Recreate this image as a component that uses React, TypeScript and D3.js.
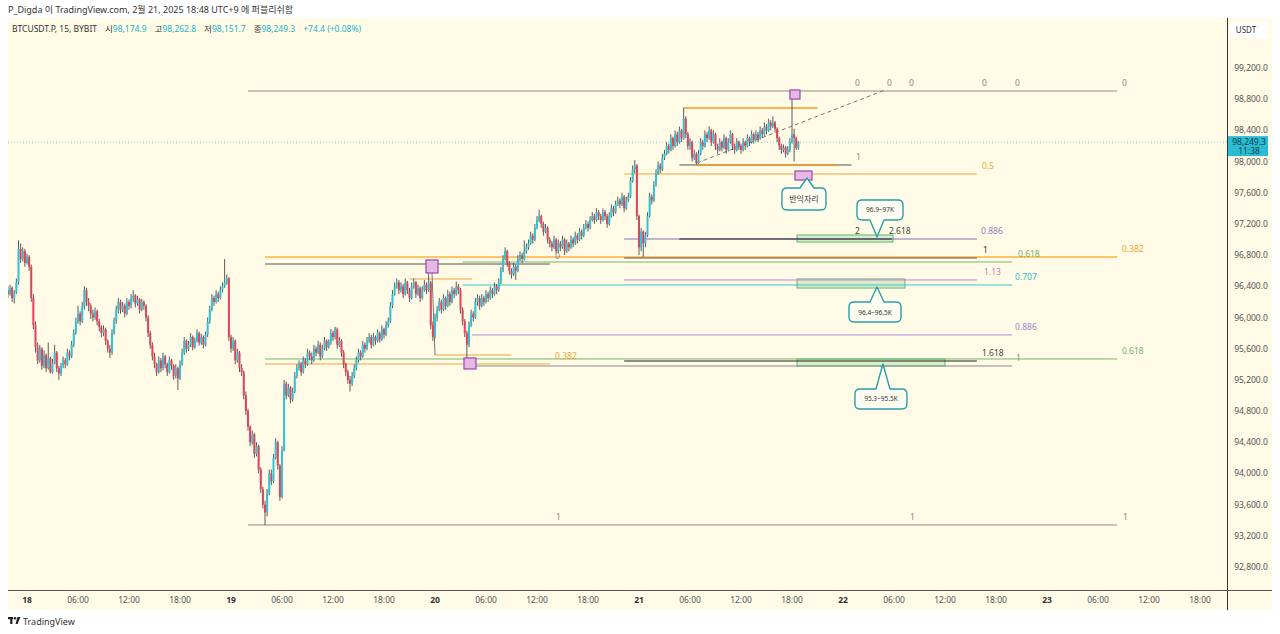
import React from 'react';
import * as d3 from 'd3';

// ---------- DATA ----------
const T0 = Date.UTC(2025, 1, 18, 0, 0); // Feb 18 00:00
const FIRST_BAR_OFFSET_MIN = -135; // first bar opens Feb 17 21:45
const BAR_MIN = 15;
const OPEN0 = 96350;
// [high, low, close] ; open = previous close
const CANDLES: number[][] = [
[96400,96250,96300],[96420,96280,96380],[96400,96200,96250],[96350,96180,96320],[96500,96300,96450],[96990,96420,96880],[96950,96700,96750],[96900,96720,96850],[96880,96650,96700],[96820,96680,96780],
[96800,96600,96650],[96680,96200,96250],[96300,95850,95900],[95950,95550,95620],[95680,95400,95450],[95650,95420,95600],[95620,95330,95380],[95580,95350,95520],[95540,95300,95350],[95680,95330,95480],
[95500,95280,95300],[95470,95280,95420],[95650,95400,95550],[95570,95300,95350],[95380,95200,95280],[95420,95250,95380],[95500,95350,95450],[95480,95350,95400],[95600,95380,95550],[95580,95450,95500],
[95700,95480,95650],[95850,95620,95800],[96000,95780,95950],[96150,95920,96050],[96080,95900,95950],[96200,95930,96150],[96400,96100,96350],[96380,96150,96200],[96250,96080,96150],[96180,95980,96050],
[96100,95950,96000],[96130,95970,96080],[96100,95900,95950],[95980,95820,95880],[95900,95750,95800],[95900,95760,95850],[95870,95650,95700],[95720,95550,95600],[95650,95480,95550],[95850,95520,95800],
[96000,95780,95950],[96150,95920,96100],[96250,96050,96200],[96230,96050,96100],[96200,96070,96150],[96180,96000,96050],[96250,96030,96200],[96230,96100,96150],[96300,96120,96250],[96350,96200,96280],
[96300,96130,96180],[96280,96150,96230],[96250,96050,96100],[96240,96080,96200],[96220,96100,96150],[96170,95950,96000],[96030,95750,95800],[95830,95600,95650],[95680,95450,95500],[95550,95350,95400],
[95420,95250,95300],[95500,95280,95450],[95480,95300,95350],[95550,95320,95500],[95520,95350,95400],[95420,95250,95300],[95500,95280,95450],[95470,95330,95380],[95400,95200,95250],[95400,95220,95350],
[95370,95070,95220],[95450,95200,95400],[95600,95380,95550],[95750,95520,95700],[95720,95550,95600],[95700,95570,95650],[95800,95620,95750],[95770,95580,95620],[95740,95600,95700],[95850,95680,95800],
[95820,95640,95680],[95790,95650,95750],[95770,95600,95650],[95820,95630,95780],[96000,95750,95950],[96150,95920,96100],[96300,96080,96250],[96280,96150,96200],[96350,96180,96300],[96330,96200,96250],
[96400,96230,96350],[96450,96320,96400],[96750,96380,96450],[96550,96420,96500],[96520,95700,95750],[95780,95550,95600],[95750,95570,95700],[95720,95400,95450],[95600,95420,95550],[95570,95300,95350],
[95400,95250,95300],[95320,94950,95000],[95050,94750,94800],[94830,94550,94600],[94620,94350,94400],[94550,94370,94500],[94520,94200,94250],[94400,94220,94350],[94370,94000,94050],[94080,93750,93800],
[93830,93550,93600],[93650,93340,93500],[93800,93450,93750],[94050,93720,94000],[94050,93850,93900],[94250,93880,94200],[94450,94180,94400],[94420,94050,94100],[94120,93650,93700],[94350,93680,94300],
[95200,94280,95150],[95180,94950,95000],[95150,94980,95100],[95120,94900,94950],[95100,94920,95050],[95300,95030,95250],[95400,95220,95350],[95450,95320,95400],[95430,95250,95300],[95500,95280,95450],
[95480,95350,95400],[95600,95380,95550],[95580,95450,95500],[95550,95400,95450],[95650,95430,95600],[95630,95500,95550],[95700,95530,95650],[95680,95450,95500],[95650,95480,95600],[95750,95580,95700],
[95720,95570,95620],[95720,95600,95680],[95850,95650,95800],[95830,95700,95750],[95880,95720,95850],[95870,95600,95650],[95750,95620,95700],[95720,95500,95550],[95580,95350,95400],[95420,95250,95300],
[95330,95150,95200],[95250,95050,95150],[95300,95120,95250],[95400,95220,95350],[95500,95320,95450],[95600,95420,95550],[95580,95450,95500],[95700,95480,95650],[95680,95550,95600],[95750,95580,95700],
[95800,95670,95750],[95780,95600,95650],[95800,95630,95750],[95770,95650,95700],[95850,95680,95800],[95820,95680,95720],[95900,95700,95850],[95870,95730,95780],[95950,95760,95900],[96000,95870,95950],
[96200,95930,96150],[96350,96120,96300],[96450,96280,96400],[96500,96370,96450],[96480,96300,96350],[96450,96320,96400],[96430,96250,96300],[96500,96280,96450],[96470,96300,96350],[96380,96200,96250],
[96450,96230,96400],[96500,96370,96450],[96470,96250,96300],[96420,96280,96380],[96400,96200,96250],[96400,96230,96350],[96480,96330,96420],[96450,96300,96350],[96700,96330,96450],[96470,95850,95900],
[95950,95700,95750],[96050,95730,96000],[96150,95950,96100],[96250,96080,96200],[96230,96050,96100],[96300,96080,96250],[96270,96100,96150],[96350,96130,96300],[96330,96150,96200],[96400,96180,96350],
[96380,96250,96300],[96460,96280,96400],[96430,96300,96350],[96380,96050,96100],[96130,95900,95950],[95980,95750,95800],[95830,95480,95650],[95950,95620,95900],[96100,95880,96050],[96080,95950,96000],
[96250,95980,96200],[96300,96150,96250],[96280,96100,96150],[96300,96130,96250],[96280,96150,96200],[96350,96180,96300],[96330,96200,96250],[96400,96230,96350],[96380,96250,96300],[96450,96280,96400],
[96430,96300,96350],[96500,96330,96450],[96650,96430,96600],[96800,96580,96750],[96900,96730,96850],[96870,96650,96700],[96720,96550,96600],[96630,96500,96550],[96700,96530,96650],[96680,96480,96600],
[96800,96580,96750],[96850,96720,96800],[96830,96700,96750],[96990,96730,96850],[96950,96820,96900],[97000,96870,96950],[97100,96930,97050],[97080,96950,97000],[97200,96980,97150],[97300,97130,97250],
[97380,97220,97300],[97320,97150,97200],[97230,97050,97100],[97200,97080,97150],[97170,96950,97000],[97030,96900,96950],[96980,96850,96900],[97050,96880,97000],[97020,96820,96850],[97000,96830,96950],
[96980,96850,96900],[97050,96880,97000],[97020,96800,96850],[97000,96830,96950],[96970,96850,96900],[97050,96880,97000],[97030,96900,96950],[97100,96930,97050],[97080,96950,97000],[97150,96980,97100],
[97130,97000,97050],[97200,97030,97150],[97250,97130,97200],[97230,97100,97150],[97300,97130,97250],[97350,97230,97300],[97330,97200,97250],[97400,97230,97350],[97380,97250,97300],[97330,97200,97250],
[97400,97230,97350],[97380,97250,97300],[97330,97150,97200],[97350,97180,97300],[97450,97280,97400],[97430,97300,97350],[97500,97330,97450],[97550,97430,97500],[97530,97400,97450],[97600,97430,97550],
[97570,97350,97400],[97550,97380,97500],[97600,97480,97550],[97800,97530,97750],[97950,97730,97900],[98020,97850,97950],[97970,97250,97300],[97320,96800,96900],[97150,96850,97100],[97120,96780,96950],
[97100,96900,97050],[97350,97030,97300],[97600,97280,97550],[97580,97450,97500],[97750,97480,97700],[97900,97680,97850],[98000,97830,97950],[97980,97850,97900],[98100,97880,98050],[98150,98020,98100],
[98250,98080,98200],[98230,98100,98150],[98350,98130,98300],[98320,98150,98200],[98400,98180,98350],[98380,98200,98250],[98450,98230,98400],[98420,98250,98300],[98690,98280,98550],[98580,98300,98350],
[98380,98150,98200],[98300,98150,98250],[98270,98000,98050],[98150,98020,98100],[98120,97960,97980],[98150,97970,98100],[98300,98080,98250],[98280,98150,98200],[98400,98180,98350],[98380,98250,98300],
[98450,98280,98400],[98420,98200,98250],[98400,98230,98350],[98370,98150,98200],[98230,98100,98150],[98300,98130,98250],[98270,98130,98180],[98350,98160,98300],[98320,98100,98150],[98300,98130,98250],
[98400,98230,98350],[98370,98150,98200],[98230,98100,98150],[98300,98130,98250],[98270,98150,98200],[98230,98100,98150],[98300,98130,98250],[98270,98150,98200],[98350,98180,98300],[98320,98200,98250],
[98400,98230,98350],[98370,98230,98280],[98400,98260,98350],[98380,98250,98300],[98450,98280,98400],[98430,98300,98350],[98500,98330,98450],[98480,98350,98400],[98550,98380,98500],[98530,98400,98450],
[98580,98430,98500],[98520,98380,98420],[98440,98250,98300],[98320,98150,98200],[98230,98100,98150],[98220,98120,98180],[98200,98050,98100],[98200,98080,98150],[98300,98120,98250],[98880,98230,98350],
[98420,98000,98300],[98320,98150,98174.9],[98262.8,98151.7,98249.3]
];

const PRICE_TICKS = [99200, 98800, 98400, 98000, 97600, 97200, 96800, 96400, 96000, 95600, 95200, 94800, 94400, 94000, 93600, 93200, 92800];
const TIME_TICK_HOURS = [0, 6, 12, 18, 24, 30, 36, 42, 48, 54, 60, 66, 72, 78, 84, 90, 96, 102, 108, 114, 120, 126, 132, 138];
const TIME_TICK_LABELS = ['18', '06:00', '12:00', '18:00', '19', '06:00', '12:00', '18:00', '20', '06:00', '12:00', '18:00', '21', '06:00', '12:00', '18:00', '22', '06:00', '12:00', '18:00', '23', '06:00', '12:00', '18:00'];

const LAST_PRICE = 98249.3;
const COUNTDOWN = '11:38';
const LEGEND = { sym: 'BTCUSDT.P, 15, BYBIT', o: '98,174.9', h: '98,262.8', l: '98,151.7', c: '98,249.3', chg: '+74.4 (+0.08%)' };
const TITLE = 'P_Digda 이 TradingView.com, 2월 21, 2025 18:48 UTC+9 에 퍼블리쉬함';

// horizontal level lines: price, start hour, end hour, colour key
const LEVEL_LINES: [number, number, number, string][] = [
  [98905, 26, 128.25, 'gray'],
  [93339, 26, 128.25, 'gray'],
  [98687, 77.25, 93, 'orangeThick'],
  [97956, 76.75, 97, 'dark'],
  [97956, 78.75, 95.25, 'orangeThick'],
  [97841, 70.25, 111.75, 'orange'],
  [97007, 70.25, 111.75, 'purple'],
  [97007, 76.75, 101.75, 'black'],
  [96776, 28, 128.25, 'orangeLight'],
  [96763, 70.25, 111.75, 'dark'],
  [96712, 51.25, 115.9, 'green'],
  [96686, 28, 61.5, 'dark'],
  [96494, 45, 52.35, 'orange'],
  [96481, 70.25, 111.75, 'pink'],
  [96417, 51.25, 115.9, 'cyan'],
  [95776, 52.35, 115.9, 'lavender'],
  [95519, 48, 57, 'orange'],
  [95468, 28, 128.25, 'green'],
  [95442, 70.25, 111.75, 'black'],
  [95404, 28, 61.5, 'orange'],
  [95378, 52.5, 115.9, 'gray'],
];

// level labels: text, left hour, level price, colour key
const LEVEL_LABELS: [string, number, number, string][] = [
  ['0', 97.41, 98905, 'grayT'], ['0', 101.18, 98905, 'grayT'], ['0', 103.76, 98905, 'grayT'],
  ['0', 112.35, 98905, 'grayT'], ['0', 116.24, 98905, 'grayT'], ['0', 128.82, 98905, 'grayT'],
  ['1', 62.24, 93339, 'grayT'], ['1', 103.88, 93339, 'grayT'], ['1', 128.94, 93339, 'grayT'],
  ['1', 97.53, 97956, 'grayT'],
  ['0.5', 112.35, 97841, 'orangeT'],
  ['0.886', 112.24, 97007, 'purpleT'],
  ['2', 97.41, 97007, 'darkT'], ['2.618', 101.41, 97007, 'darkT'],
  ['1', 112.47, 96763, 'darkT'],
  ['0.618', 116.59, 96712, 'greenT'],
  ['0.382', 128.82, 96776, 'orangeT'],
  ['1.13', 112.59, 96481, 'pinkT'],
  ['0.707', 116.24, 96417, 'cyanT'],
  ['0.886', 116.24, 95776, 'lavenderT'],
  ['1.618', 112.35, 95442, 'darkT'],
  ['1', 116.35, 95378, 'grayT'],
  ['0.618', 128.82, 95468, 'greenT'],
  ['0.382', 62.12, 95404, 'orangeT'],
  ['0', 62.12, 96686, 'grayT'],
];

// zones: start hour, end hour, top price, bottom price
const GREEN_ZONES: [number, number, number, number][] = [
  [90.59, 101.88, 97058, 96968],
  [90.59, 103.29, 96494, 96378],
  [90.59, 108.0, 95468, 95378],
];
const PURPLE_MARKS: [number, number, number, number][] = [
  [46.94, 48.35, 96738, 96571],
  [51.41, 52.82, 95481, 95340],
  [89.76, 90.94, 98918, 98802],
  [90.35, 92.35, 97879, 97763],
];
// callouts: text, tip hour, tip price
const CALLOUTS: [string, number, number][] = [
  ['96.9~97K', 100.0, 97033],
  ['96.4~96.5K', 100.0, 96391],
  ['95.3~95.5K', 100.7, 95404],
  ['반익자리', 91.76, 97789],
];
const TREND_DASHED: [number, number, number, number] = [78.82, 97982, 100.94, 98918];
const TREND_SOLID: [number, number, number, number] = [47.65, 96571, 48.0, 95519];

// ---------- STYLE ----------
const COLORS: Record<string, string> = {
  gray: '#8d8d8d', dark: '#555555', black: '#222222', orange: '#eea53a', orangeThick: '#f29b1f',
  orangeLight: '#ffc36b', purple: '#7f6fbf', green: '#72b972', pink: '#d77ad6', cyan: '#3cc3d4', lavender: '#b48ae0',
  grayT: '#8a8a8a', darkT: '#444444', orangeT: '#eea53a', purpleT: '#8f84c0', greenT: '#74b274', pinkT: '#d27cc9',
  cyanT: '#2fb8cb', lavenderT: '#9b84cf',
};
const WIDTHS: Record<string, number> = { orangeThick: 1.6, orangeLight: 2 };
const CALLOUT_LAYOUT = [
  { dx: 3, dy: -27, w: 46, h: 20 },
  { dx: -2, dy: 25, w: 52, h: 20 },
  { dx: -2, dy: 35, w: 52, h: 20 },
  { dx: -3, dy: 21, w: 44, h: 22 },
];

const UP = '#2fc3d6';
const DOWN = '#e2435b';
const WICK = '#4a4a4a';
const BG = '#fffbe6';
const FONT = '"Noto Sans", "Noto Sans CJK KR", sans-serif';

function calloutPath(tx: number, ty: number, cx: number, cy: number, w: number, h: number) {
  const r = 5;
  const x0 = cx - w / 2, x1 = cx + w / 2, y0 = cy - h / 2, y1 = cy + h / 2;
  const b0 = Math.max(x0 + r, tx - 7), b1 = Math.min(x1 - r, tx + 7);
  const below = ty > y1;
  let d = `M${x0 + r},${y0}`;
  if (!below) {
    d += `L${b0},${y0}L${tx},${ty}L${b1},${y0}`;
  }
  d += `L${x1 - r},${y0}Q${x1},${y0} ${x1},${y0 + r}L${x1},${y1 - r}Q${x1},${y1} ${x1 - r},${y1}`;
  if (below) {
    d += `L${b1},${y1}L${tx},${ty}L${b0},${y1}`;
  }
  d += `L${x0 + r},${y1}Q${x0},${y1} ${x0},${y1 - r}L${x0},${y0 + r}Q${x0},${y0} ${x0 + r},${y0}Z`;
  return d;
}

export default function App() {
  const W = 1280, H = 634;
  const paneL = 8, paneR = 1227, paneT = 18, paneB = 590;
  const x = d3.scaleUtc().domain([new Date(T0), new Date(T0 + 120 * 3600e3)]).range([27, 1047]);
  const xh = (h: number) => x(new Date(T0 + h * 3600e3));
  const y = d3.scaleLinear().domain([92800, 99200]).range([567, 68]);
  const fmt = d3.format(',.1f');

  const bars = CANDLES.map((c, i) => {
    const o = i === 0 ? OPEN0 : CANDLES[i - 1][2];
    const t = new Date(T0 + (FIRST_BAR_OFFSET_MIN + i * BAR_MIN) * 60e3);
    return { t, o, h: c[0], l: c[1], c: c[2] };
  });
  const bw = 2;

  return (
    <div style={{ position: 'absolute', left: 0, top: 0, width: W, height: H, background: '#fff' }}>
      <svg width={W} height={H} style={{ display: 'block', fontFamily: FONT }}>
        <defs>
          <clipPath id="pane"><rect x={paneL} y={paneT} width={paneR - paneL} height={paneB - paneT} /></clipPath>
        </defs>
        <rect x={0} y={0} width={W} height={H} fill="#ffffff" />
        <text x={8} y={13} fontSize={9} fill="#333">{TITLE}</text>
        <rect x={paneL} y={paneT} width={1272 - paneL} height={610 - paneT} fill={BG} />

        <g clipPath="url(#pane)">
          <line x1={paneL} x2={paneR} y1={y(LAST_PRICE)} y2={y(LAST_PRICE)} stroke="#7fd3dd" strokeWidth={1} strokeDasharray="1,2" />

          {GREEN_ZONES.map((z, i) => (
            <rect key={'gz' + i} x={xh(z[0])} y={y(z[2])} width={xh(z[1]) - xh(z[0])} height={y(z[3]) - y(z[2])}
              fill="rgba(120,200,130,0.28)" stroke="#5cb870" strokeWidth={1} />
          ))}

          {LEVEL_LINES.map((l, i) => (
            <line key={'ll' + i} x1={xh(l[1])} x2={xh(l[2])} y1={y(l[0])} y2={y(l[0])}
              stroke={COLORS[l[3]]} strokeWidth={WIDTHS[l[3]] || 1} />
          ))}

          <line x1={xh(TREND_DASHED[0])} y1={y(TREND_DASHED[1])} x2={xh(TREND_DASHED[2])} y2={y(TREND_DASHED[3])}
            stroke="#777" strokeWidth={1} strokeDasharray="4,3" />
          <line x1={xh(TREND_SOLID[0])} y1={y(TREND_SOLID[1])} x2={xh(TREND_SOLID[2])} y2={y(TREND_SOLID[3])}
            stroke="#777" strokeWidth={1} />

          {bars.map((b, i) => {
            const cx = x(b.t);
            const up = b.c >= b.o;
            const top = y(Math.max(b.o, b.c));
            const bot = y(Math.min(b.o, b.c));
            return (
              <g key={'b' + i}>
                <line x1={cx} x2={cx} y1={y(b.h)} y2={y(b.l)} stroke={WICK} strokeWidth={0.9} />
                <rect x={cx - bw / 2} y={top} width={bw} height={Math.max(1, bot - top)} fill={up ? UP : DOWN} />
              </g>
            );
          })}

          {PURPLE_MARKS.map((m, i) => (
            <rect key={'pm' + i} x={xh(m[0])} y={y(m[2])} width={xh(m[1]) - xh(m[0])} height={y(m[3]) - y(m[2])}
              fill="#e6b9e3" stroke="#9c44b0" strokeWidth={1.2} />
          ))}

          {LEVEL_LABELS.map((l, i) => (
            <text key={'lb' + i} x={xh(l[1])} y={y(l[2]) - 5} fontSize={8.5} fill={COLORS[l[3]]}>{l[0]}</text>
          ))}

          {CALLOUTS.map((c, i) => {
            const tx = xh(c[1]), ty = y(c[2]);
            const L = CALLOUT_LAYOUT[i];
            const cx = tx + L.dx, cy = ty + L.dy;
            return (
              <g key={'co' + i}>
                <path d={calloutPath(tx, ty, cx, cy, L.w, L.h)} fill="#fffdf2" stroke="#2a9fa8" strokeWidth={1.4} strokeLinejoin="round" />
                <text x={cx} y={cy + 2.5} fontSize={i === 3 ? 8 : 6.5} textAnchor="middle" fill="#333">{c[0]}</text>
              </g>
            );
          })}
        </g>

        {/* legend */}
        <text x={12} y={32} fontSize={8.5} fill="#333">
          <tspan>{LEGEND.sym}</tspan>
          <tspan dx={8}>시</tspan><tspan fill="#22b5c9">{LEGEND.o}</tspan>
          <tspan dx={8}>고</tspan><tspan fill="#22b5c9">{LEGEND.h}</tspan>
          <tspan dx={8}>저</tspan><tspan fill="#22b5c9">{LEGEND.l}</tspan>
          <tspan dx={8}>종</tspan><tspan fill="#22b5c9">{LEGEND.c}</tspan>
          <tspan dx={8} fill="#22b5c9">{LEGEND.chg}</tspan>
        </text>

        {/* axes frame */}
        <line x1={paneR + 0.5} x2={paneR + 0.5} y1={paneT} y2={610} stroke="#333" strokeWidth={1} />
        <line x1={paneL} x2={1272} y1={paneB + 0.5} y2={paneB + 0.5} stroke="#555" strokeWidth={1} />

        {/* price axis */}
        <rect x={1230} y={22} width={38} height={16} rx={2} fill="#ffffff" />
        <text x={1246} y={33} fontSize={8} textAnchor="middle" fill="#333">USDT</text>
        {PRICE_TICKS.map((p) => (
          <text key={'pt' + p} x={1251} y={y(p) + 3} fontSize={8.5} textAnchor="middle" fill="#555">{fmt(p)}</text>
        ))}
        <rect x={1228} y={y(LAST_PRICE) - 6} width={40} height={20} fill="#29bcd2" />
        <text x={1249} y={y(LAST_PRICE) + 3} fontSize={8.5} textAnchor="middle" fill="#0d3c4e">{fmt(LAST_PRICE)}</text>
        <text x={1249} y={y(LAST_PRICE) + 12} fontSize={8.5} textAnchor="middle" fill="#0d3c4e">{COUNTDOWN}</text>

        {/* time axis */}
        {TIME_TICK_HOURS.map((h, i) => (
          <text key={'tt' + i} x={xh(h)} y={603} fontSize={8.5} textAnchor="middle"
            fill={TIME_TICK_LABELS[i].includes(':') ? '#555' : '#333'}
            fontWeight={TIME_TICK_LABELS[i].includes(':') ? 400 : 700}>{TIME_TICK_LABELS[i]}</text>
        ))}

        {/* TradingView logo */}
        <g transform="translate(8,617)" fill="#222">
          <rect x={0} y={0} width={5} height={2.2} />
          <rect x={2.2} y={0} width={2.2} height={7} />
          <circle cx={7} cy={1.3} r={1.3} />
          <path d="M9.5,0 L12.5,0 L9.5,7 L7.5,7 Z" />
        </g>
        <text x={23} y={624.5} fontSize={9} fill="#333">TradingView</text>
      </svg>
    </div>
  );
}
